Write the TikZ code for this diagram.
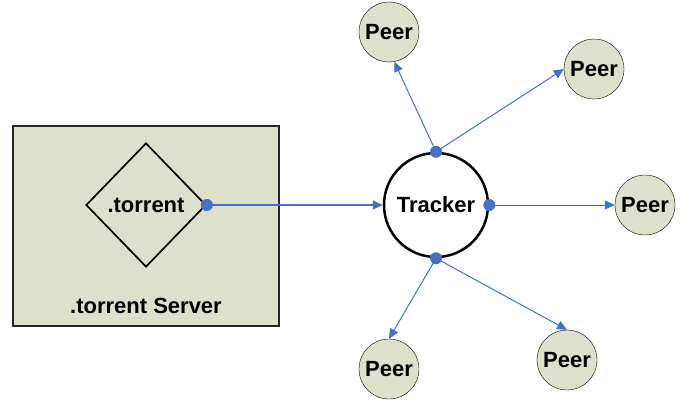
\documentclass[tikz,border=0pt]{standalone}
\usepackage{fontspec}
\setmainfont{Liberation Sans}
\usetikzlibrary{shapes.geometric,arrows.meta}
\definecolor{peerfill}{RGB}{221,224,203}
\definecolor{linkblue}{RGB}{68,114,196}
\begin{document}
\begin{tikzpicture}[x=1pt,y=-1pt,
    font=\fontsize{22}{26}\selectfont\bfseries,
    peer/.style={circle,draw,fill=peerfill,minimum size=60pt,inner sep=0pt},
    link/.style={linkblue,line width=1pt,-{Triangle[length=10pt,width=9pt]}}]
                \useasboundingbox (0,0) rectangle (680,402);
                %% server
                \node[draw=black!85,line width=2pt,fill=peerfill,minimum width=266pt,minimum height=200pt] (server) at (146,226) {};
                \node[diamond,draw,line width=1.7pt,minimum width=120pt,minimum height=124pt,inner sep=0pt] (torrent) at (146,205) {.torrent};
                \node (serverlabel) at (146,306) {.torrent Server};
                %% tracker
                \node[circle,draw,line width=2.5pt,minimum size=104pt,inner sep=0pt] (tracker) at (436,205) {Tracker};
                %% peers
                \node[peer] (p1) at (389,32) {Peer};
                \node[peer] (p2) at (594,69) {Peer};
                \node[peer] (p3) at (645,205) {Peer};
                \node[peer] (p4) at (389,369) {Peer};
                \node[peer] (p5) at (567,360) {Peer};
                %% links
                \draw[link,line width=2pt] (torrent.east) -- (tracker);
                \draw[link] (tracker.north) -- (p1.-80);
                \draw[link] (tracker.north) -- (p2.west);
                \draw[link] (tracker.east) -- (p3.west);
                \draw[link] (tracker.south) -- (p4.north);
                \draw[link] (tracker.south) -- (p5.north);
                %% dots
                \fill[linkblue] (torrent.east) circle (6pt);
                \fill[linkblue] (tracker.north) circle (6pt);
                \fill[linkblue] (tracker.east) circle (6pt);
                \fill[linkblue] (tracker.south) circle (6pt);
\end{tikzpicture}
\end{document}
